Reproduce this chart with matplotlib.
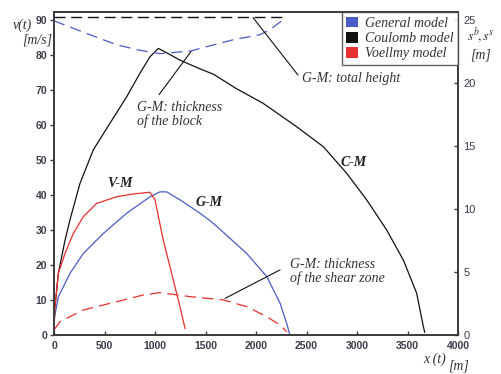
import matplotlib
matplotlib.use("Agg")
import matplotlib.pyplot as plt
from matplotlib.patches import Patch

# Velocity profiles v(t) [m/s] versus run-out distance x(t) [m]
cm_x = [0, 10, 43, 109, 158, 257, 389, 554, 720, 851, 950, 1033, 1099, 1250, 1450, 1580,
        1800, 2071, 2403, 2667, 2898, 3096, 3294, 3459, 3591, 3657, 3670]
cm_v = [8, 8.1, 17.6, 27.1, 32.9, 43.3, 52.9, 60.5, 68.1, 74.8, 79.5, 81.9, 80.9, 78.5, 76, 74.5,
        70.5, 66.2, 59.5, 53.8, 46.2, 38.6, 30, 21.4, 11.9, 2.4, 0.8]

gm_x = [0, 43, 158, 290, 488, 720, 950, 1049, 1116, 1248, 1446, 1578, 1908, 2106, 2238, 2304, 2330]
gm_v = [4.3, 10.9, 17.6, 23.3, 29, 34.8, 39.5, 40.9, 40.9, 38.6, 34.8, 31.9, 23.3, 16.7, 9.1, 3.3, 0.5]

vm_x = [0, 10, 43, 109, 191, 290, 422, 620, 785, 950, 1000, 1082, 1181, 1247, 1297]
vm_v = [1.4, 8.1, 17.6, 23.3, 29, 33.8, 37.6, 39.5, 40.3, 40.8, 38.6, 27.1, 15.7, 8.1, 1.9]

# General model: block thickness, shear-zone thickness and total height [m]
block_x = [0, 290, 621, 852, 1050, 1347, 1677, 1775, 2040, 2139, 2287]
block_s = [24.9, 24.0, 23.0, 22.56, 22.3, 22.5, 23.2, 23.4, 23.8, 24.2, 25.1]

shear_x = [0, 59, 290, 620, 884, 1049, 1347, 1676, 1908, 2106, 2238, 2304]
shear_s = [0.4, 1.06, 1.98, 2.64, 3.17, 3.36, 3.04, 2.78, 2.25, 1.45, 0.79, 0.26]

height_x = [0, 2287]
height_s = [25.2, 25.2]

x_ticks = [0, 500, 1000, 1500, 2000, 2500, 3000, 3500, 4000]
v_ticks = [0, 10, 20, 30, 40, 50, 60, 70, 80, 90]
s_ticks = [0, 5, 10, 15, 20, 25]

legend_labels = ["General model", "Coulomb model", "Voellmy model"]

BLUE = "#4a5cc6"
RED = "#e8302c"
BLACK = "#111111"
AXC = "#3a3a3a"
TICKC = "#3c3c4a"

fig = plt.figure(figsize=(5.01, 3.74), dpi=100)
ax = fig.add_axes([0.1078, 0.1043, 0.8064, 0.8636])
ax2 = ax.twinx()

ax.plot(cm_x, cm_v, color=BLACK, lw=0.9)
ax.plot(gm_x, gm_v, color=BLUE, lw=0.9)
ax.plot(vm_x, vm_v, color=RED, lw=0.9)

ax2.plot(height_x, height_s, color=BLACK, lw=1.0, dashes=(8, 4))
ax2.plot(block_x, block_s, color=BLUE, lw=0.9, dashes=(9, 5))
ax2.plot(shear_x, shear_s, color=RED, lw=0.9, dashes=(9, 5))

ax.set_xlim(0, 4000)
ax.set_ylim(0, 92.3)
ax2.set_ylim(0, 25.6)

tick_font = dict(family="Liberation Sans", weight="bold", size=7.5)
ax.set_xticks(x_ticks)
ax.set_xticklabels([str(t) for t in x_ticks], color=TICKC, **tick_font)
ax.set_yticks(v_ticks)
ax.set_yticklabels([str(t) for t in v_ticks], color=TICKC, **tick_font)
ax2.set_yticks(s_ticks)
ax2.set_yticklabels([str(t) for t in s_ticks], color=TICKC,
                    family="Liberation Sans", size=8)

ax.tick_params(axis="y", direction="out", length=3, width=1, color=AXC, pad=2)
ax.tick_params(axis="x", direction="in", length=3, width=1, color=AXC, pad=4.5)
ax2.tick_params(axis="y", direction="in", length=3, width=1, color=AXC, pad=4)

for a in (ax, ax2):
    for s in a.spines.values():
        s.set_color(AXC)
        s.set_linewidth(1.2)

serif_it = dict(family="Liberation Serif", style="italic", size=10, color="#333333")
serif_bi = dict(family="Liberation Serif", style="italic", weight="bold", size=10, color="#222222")

# axis titles
fig.text(13 / 501, 1 - 25 / 374, "v(t)", ha="left", va="center", **serif_it)
fig.text(22 / 501, 1 - 40 / 374, "[m/s]", ha="left", va="center", **serif_it)
fig.text(467 / 501, 1 - 36 / 374, r"$s^b\!,s^s$", ha="left", va="center",
         fontsize=10, color="#333333", math_fontfamily="stix")
fig.text(470 / 501, 1 - 55 / 374, "[m]", ha="left", va="center", **serif_it)
fig.text(423 / 501, 1 - 359 / 374, "x (t)", ha="left", va="center", **serif_it)
fig.text(448 / 501, 1 - 366 / 374, "[m]", ha="left", va="center", **serif_it)

# curve labels
ax.text(648, 43.4, "V-M", ha="center", va="center", **serif_bi)
ax.text(1530, 38.0, "G-M", ha="center", va="center", **serif_bi)
ax.text(2970, 49.4, "C-M", ha="center", va="center", **serif_bi)

# annotations and their leader lines
leader = dict(arrowstyle="-", color=BLACK, lw=0.8, shrinkA=0, shrinkB=0)
ax2.text(822, 17.5, "G-M: thickness\nof the block", ha="left", va="center",
         linespacing=1.05, **serif_it)
ax2.annotate("", xy=(1356, 22.46), xytext=(1040, 19.05), arrowprops=leader)

ax2.text(2455, 20.3, "G-M: total height", ha="left", va="center", **serif_it)
ax2.annotate("", xy=(1970, 25.16), xytext=(2416, 20.6), arrowprops=leader)

ax2.text(2337, 5.04, "G-M: thickness\nof the shear zone", ha="left", va="center",
         linespacing=1.05, **serif_it)
ax2.annotate("", xy=(1693, 2.9), xytext=(2238, 5.16), arrowprops=leader)

handles = [Patch(facecolor=BLUE, edgecolor="none"),
           Patch(facecolor=BLACK, edgecolor="none"),
           Patch(facecolor=RED, edgecolor="none")]
leg = ax2.legend(handles, legend_labels, loc="upper right", frameon=True, fancybox=False,
                 borderaxespad=0, handlelength=0.8, handleheight=0.8, handletextpad=0.5,
                 labelspacing=0.15, borderpad=0.35,
                 prop=dict(family="Liberation Serif", style="italic", size=10))
leg.get_frame().set_edgecolor(AXC)
leg.get_frame().set_linewidth(1.0)
for t in leg.get_texts():
    t.set_color("#333333")

fig.savefig("out.png", dpi=100)
